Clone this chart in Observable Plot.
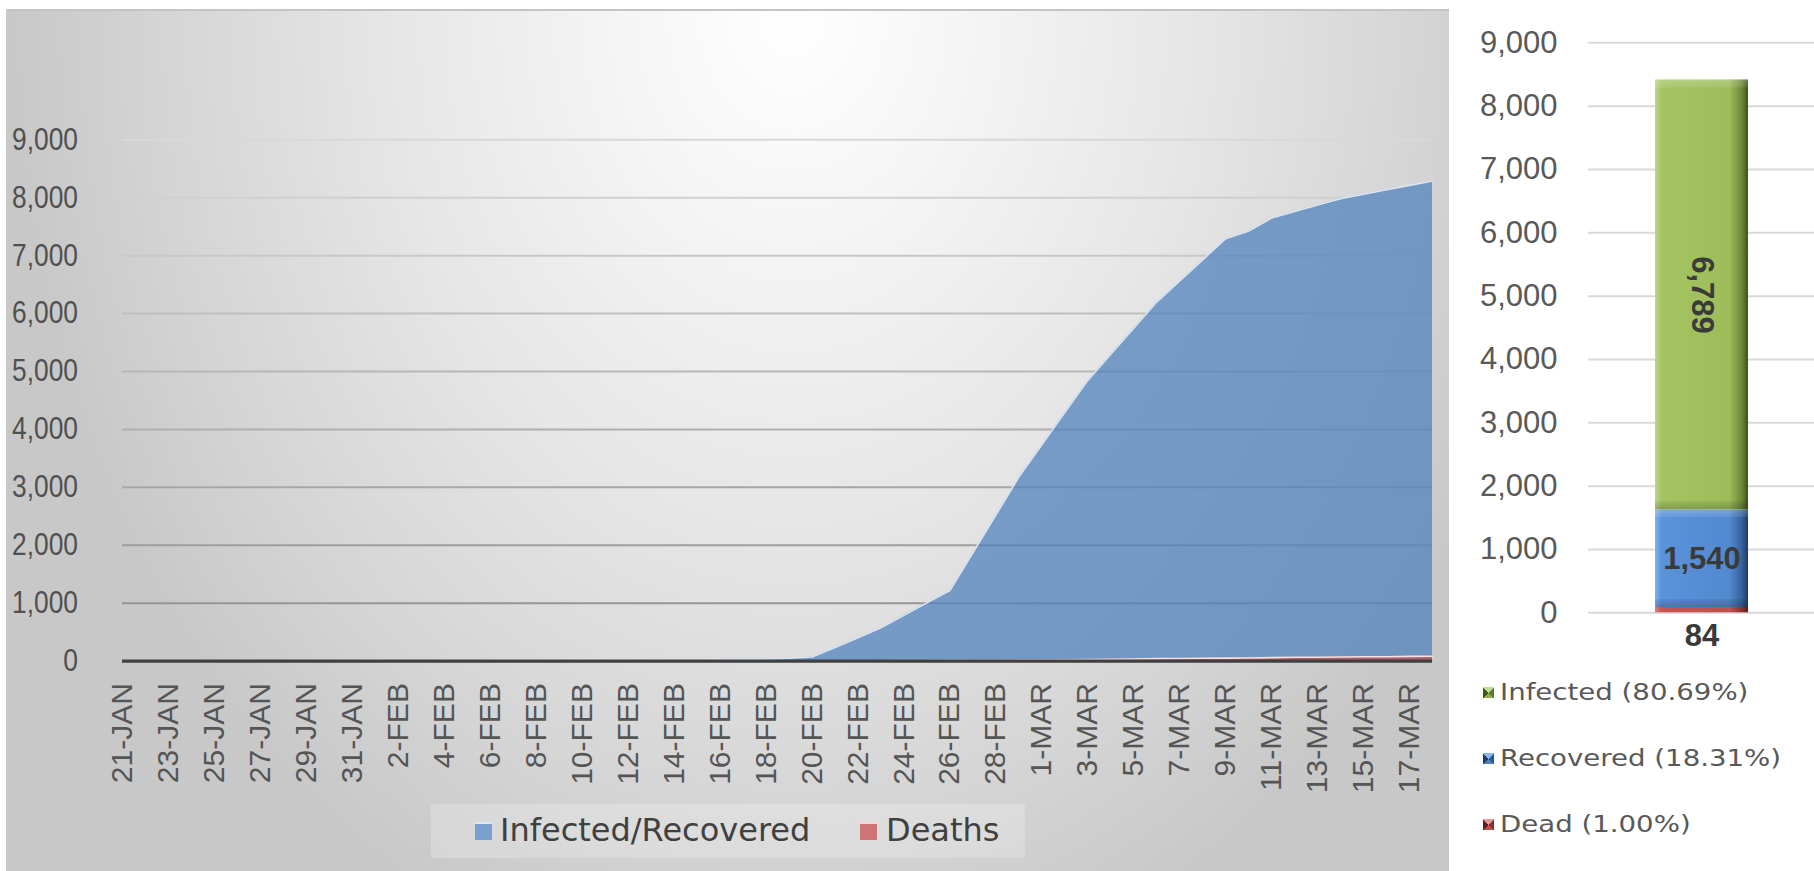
<!DOCTYPE html>
<html>
<head>
<meta charset="utf-8">
<script src="https://cdn.jsdelivr.net/npm/d3@7"></script>
<script src="https://cdn.jsdelivr.net/npm/@observablehq/plot@0.6"></script>
<style>
  html, body { margin: 0; padding: 0; background: #ffffff; }
  #root { position: relative; width: 1814px; height: 871px; overflow: hidden; background: #ffffff; }
  #leftPanel {
    position: absolute; left: 6px; top: 9px; width: 1443px; height: 870px; box-sizing: border-box;
    border-top: 2px solid #c4c4c4; border-left: 2px solid #c8c8c8;
    background: radial-gradient(ellipse 780px 1000px at 784px 0px, #ffffff 0%, #f5f5f5 22%, #e6e6e6 52%, #d4d4d4 82%, #c8c8c8 100%);
  }
  #leftChart { position: absolute; left: 0; top: 0; }
  #rightChart { position: absolute; left: 1449px; top: 0; }
  #legL { position: absolute; left: 431px; top: 804px; width: 594px; height: 54px; background: rgba(255,255,255,0.22); }
  .lgText { position: absolute; font-family: "DejaVu Sans", sans-serif; color: #404040; white-space: nowrap; line-height: 1; }
  .lgBox { position: absolute; }
</style>
</head>
<body>
<div id="root">
  <div id="leftPanel"></div>
  <div id="leftChart"></div>
  <div id="legL"></div>
  <div id="rightChart"></div>
  <div id="legR"></div>
</div>
<script>
// ---------------- data ----------------
const categories = [
  "21-JAN","22-JAN","23-JAN","24-JAN","25-JAN","26-JAN","27-JAN","28-JAN","29-JAN","30-JAN","31-JAN",
  "1-FEB","2-FEB","3-FEB","4-FEB","5-FEB","6-FEB","7-FEB","8-FEB","9-FEB","10-FEB",
  "11-FEB","12-FEB","13-FEB","14-FEB","15-FEB","16-FEB","17-FEB","18-FEB","19-FEB","20-FEB",
  "21-FEB","22-FEB","23-FEB","24-FEB","25-FEB","26-FEB","27-FEB","28-FEB","29-FEB",
  "1-MAR","2-MAR","3-MAR","4-MAR","5-MAR","6-MAR","7-MAR","8-MAR","9-MAR","10-MAR",
  "11-MAR","12-MAR","13-MAR","14-MAR","15-MAR","16-MAR","17-MAR","18-MAR"
];
const infectedRecovered = [
  1,1,1,2,2,3,4,4,4,4,11,
  12,15,15,16,18,23,24,24,25,27,
  28,28,28,28,28,29,30,31,51,70,
  235,405,575,790,1005,1219,1870,2520,3176,
  3733,4290,4846,5297,5748,6199,6564,6928,7293,7425,
  7650,7761,7873,7984,8060,8137,8213,8289
];
const deaths = [
  0,0,0,0,0,0,0,0,0,0,0,
  0,0,0,0,0,0,0,0,0,0,
  0,0,0,0,0,0,0,0,0,1,
  2,2,6,8,11,12,13,13,17,
  17,22,28,32,35,42,44,50,51,54,
  60,66,67,72,75,75,81,84
];
const tickLabels = [
  "21-JAN","23-JAN","25-JAN","27-JAN","29-JAN","31-JAN",
  "2-FEB","4-FEB","6-FEB","8-FEB","10-FEB","12-FEB","14-FEB","16-FEB","18-FEB","20-FEB",
  "22-FEB","24-FEB","26-FEB","28-FEB",
  "1-MAR","3-MAR","5-MAR","7-MAR","9-MAR","11-MAR","13-MAR","15-MAR","17-MAR"
];
const yTicks = [0,1000,2000,3000,4000,5000,6000,7000,8000,9000];
const leftLegendLabels = ["Infected/Recovered","Deaths"];

const barSeries = ["Dead","Recovered","Infected"];
const barValues = [84, 1540, 6789];
const rightLegendLabels = ["Infected (80.69%)","Recovered (18.31%)","Dead (1.00%)"];

// ---------------- left chart ----------------
const fmt = d3.format(",");
const rows = categories.map((c, i) => ({date: c, cases: infectedRecovered[i], deaths: deaths[i]}));
const gridColor = d3.interpolateRgb("#8e8e8e", "#d8d8d8");

const left = Plot.plot({
  width: 1450, height: 800,
  marginLeft: 122, marginRight: 18, marginTop: 139.3, marginBottom: 139.4,
  style: {background: "transparent", overflow: "visible"},
  x: {type: "point", domain: categories, padding: 0},
  y: {domain: [0, 9000]},
  marks: [
    Plot.ruleY(yTicks.filter(v => v > 0), {y: d => d, stroke: d => gridColor(d / 9000), strokeWidth: 2}),
    Plot.areaY(rows, {x: "date", y: "cases", fill: "#4f81bd", fillOpacity: 0.74}),
    Plot.lineY(rows, {x: "date", y: "cases", stroke: "#dde7f3", strokeWidth: 1.6}),
    Plot.areaY(rows, {x: "date", y: "deaths", fill: "#c0504d", fillOpacity: 0.74}),
    Plot.lineY(rows, {x: "date", y: "deaths", stroke: "#f6e3e2", strokeWidth: 1.6}),
    Plot.ruleY([0], {stroke: "#404040", strokeWidth: 3.4}),
    Plot.axisY({ticks: yTicks, tickFormat: fmt, tickSize: 0, tickPadding: 44.5, label: null,
      fontSize: 31, fontFamily: "Liberation Sans", color: "#505050"}),
    Plot.axisX({ticks: tickLabels, tickRotate: -90, tickSize: 0, tickPadding: 22, label: null,
      fontSize: 30, fontFamily: "Liberation Sans", color: "#555555"})
  ]
});
document.getElementById("leftChart").appendChild(left);

// the left panel's numbers are horizontally narrower in the original
d3.select(left).selectAll("g[aria-label='y-axis tick label'] text").each(function () {
  const len = this.getComputedTextLength();
  if (len > 0) {
    this.setAttribute("textLength", (len * 0.85).toFixed(1));
    this.setAttribute("lengthAdjust", "spacingAndGlyphs");
  }
});

// left legend
const legL = document.getElementById("legL");
const legLItems = [
  {label: leftLegendLabels[0], color: "#7aa0cd", top: "#dde7f3", boxX: 44, textX: 69},
  {label: leftLegendLabels[1], color: "#cd7572", top: "#f3d6d5", boxX: 429, textX: 455}
];
legLItems.forEach(it => {
  const b = document.createElement("div");
  b.className = "lgBox";
  b.style.cssText = `left:${it.boxX}px;top:18px;width:17px;height:18px;background:${it.color};border-top:2px solid ${it.top};box-sizing:border-box;`;
  legL.appendChild(b);
  const t = document.createElement("div");
  t.className = "lgText";
  t.style.cssText = `left:${it.textX}px;top:10px;font-size:32px;`;
  t.textContent = it.label;
  legL.appendChild(t);
});

// ---------------- right chart ----------------
const baseFills = {Dead: "#c0504d", Recovered: "#558ed5", Infected: "#a1c15e"};
const overlayFills = {Dead: "#010101", Recovered: "#020202", Infected: "#030303"};
let acc = 0;
const stackRows = barSeries.map((s, i) => {
  const r = {cat: "total", series: s, y1: acc, y2: acc + barValues[i], mid: acc + barValues[i] / 2, value: barValues[i]};
  acc += barValues[i];
  return r;
});
const txt = {fontFamily: "Liberation Sans", fontWeight: "bold", fontSize: 31, fill: "#3a3a3a"};

const right = Plot.plot({
  width: 365, height: 660,
  marginLeft: 139, marginRight: 0, marginTop: 42.3, marginBottom: 47.7,
  style: {background: "transparent", overflow: "visible"},
  x: {type: "band", domain: ["total"], padding: 0.418, axis: null},
  y: {domain: [0, 9000]},
  marks: [
    Plot.ruleY(yTicks, {y: d => d, stroke: "#d9d9d9", strokeWidth: 2}),
    ...barSeries.map(s => Plot.barY(stackRows.filter(d => d.series === s), {x: "cat", y1: "y1", y2: "y2", fill: baseFills[s]})),
    ...barSeries.map(s => Plot.barY(stackRows.filter(d => d.series === s), {x: "cat", y1: "y1", y2: "y2", fill: overlayFills[s]})),
    Plot.text(stackRows.filter(d => d.series === "Recovered"), {x: "cat", y: "mid", text: d => fmt(d.value), ...txt}),
    Plot.text(stackRows.filter(d => d.series === "Infected"), {x: "cat", y: "mid", text: d => fmt(d.value), rotate: 90, ...txt}),
    Plot.text(stackRows.filter(d => d.series === "Dead"), {x: "cat", y: "y1", dy: 23, text: d => fmt(d.value), ...txt}),
    Plot.axisY({ticks: yTicks, tickFormat: fmt, tickSize: 0, tickPadding: 31, label: null,
      fontSize: 31, fontFamily: "Liberation Sans", color: "#595959"})
  ]
});
document.getElementById("rightChart").appendChild(right);

// bevel-like gradients for the stacked bar
const svgR = d3.select(right);
const defs = svgR.insert("defs", ":first-child");
const grads = {
  Infected: ["#bcd88a", "#a4c462", "#9dbd5a", "#6f8a38", "#3f4f1c"],
  Recovered: ["#7fb0ee", "#5a93da", "#5289cf", "#35639e", "#1f3b60"],
  Dead: ["#e07a77", "#c8544f", "#c0504d", "#8e3331", "#5a1d1c"]
};
Object.entries(grads).forEach(([k, c]) => {
  const g = defs.append("linearGradient").attr("id", "g" + k).attr("x1", 0).attr("x2", 1).attr("y1", 0).attr("y2", 0);
  [[0, c[0]], [0.07, c[1]], [0.8, c[2]], [0.93, c[3]], [1, c[4]]].forEach(([o, col]) =>
    g.append("stop").attr("offset", o).attr("stop-color", col));
});
// vertical bevel overlay: faint light band on top, faint dark band at the bottom of each segment
const yScale = right.scale("y");
stackRows.forEach(r => {
  const hPx = Math.abs(yScale.apply(r.y1) - yScale.apply(r.y2));
  const b = hPx < 20 ? 0 : 8 / hPx;
  const g = defs.append("linearGradient").attr("id", "o" + r.series).attr("x1", 0).attr("x2", 0).attr("y1", 0).attr("y2", 1);
  const stops = b === 0 ? [[0, "#000000", 0], [1, "#000000", 0]] :
    [[0, "#ffffff", 0.22], [b, "#ffffff", 0.08], [b + 0.0001, "#ffffff", 0], [1 - b - 0.0001, "#000000", 0], [1 - b, "#000000", 0.06], [1, "#000000", 0.2]];
  stops.forEach(([o, col, op]) => g.append("stop").attr("offset", o).attr("stop-color", col).attr("stop-opacity", op));
});
barSeries.forEach(s => {
  svgR.selectAll(`[fill="${baseFills[s]}"]`).attr("fill", `url(#g${s})`);
  svgR.selectAll(`[fill="${overlayFills[s]}"]`).attr("fill", `url(#o${s})`);
});

// right legend
const legR = document.getElementById("legR");
const legRItems = [
  {label: rightLegendLabels[0], c: ["#c4dc96", "#5e7a2a", "#8fae4e", "#3f561a"], cy: 692.5},
  {label: rightLegendLabels[1], c: ["#8db8ee", "#2f5b94", "#4f81bd", "#1f3d66"], cy: 758.5},
  {label: rightLegendLabels[2], c: ["#e39a98", "#8c2f2d", "#c0504d", "#5e1e1c"], cy: 824.5}
];
legRItems.forEach(it => {
  const b = document.createElement("div");
  b.className = "lgBox";
  b.style.cssText = `left:1483px;top:${it.cy - 5.5}px;width:11px;height:11px;` +
    `background:conic-gradient(from -45deg, ${it.c[0]} 0 90deg, ${it.c[1]} 90deg 180deg, ${it.c[2]} 180deg 270deg, ${it.c[3]} 270deg 360deg);`;
  legR.appendChild(b);
  const t = document.createElement("div");
  t.className = "lgText";
  t.style.cssText = `left:1500px;top:${it.cy - 11.5}px;font-size:23px;color:#595959;transform:scaleX(1.2);transform-origin:0 50%;`;
  t.textContent = it.label;
  legR.appendChild(t);
});
</script>
</body>
</html>
